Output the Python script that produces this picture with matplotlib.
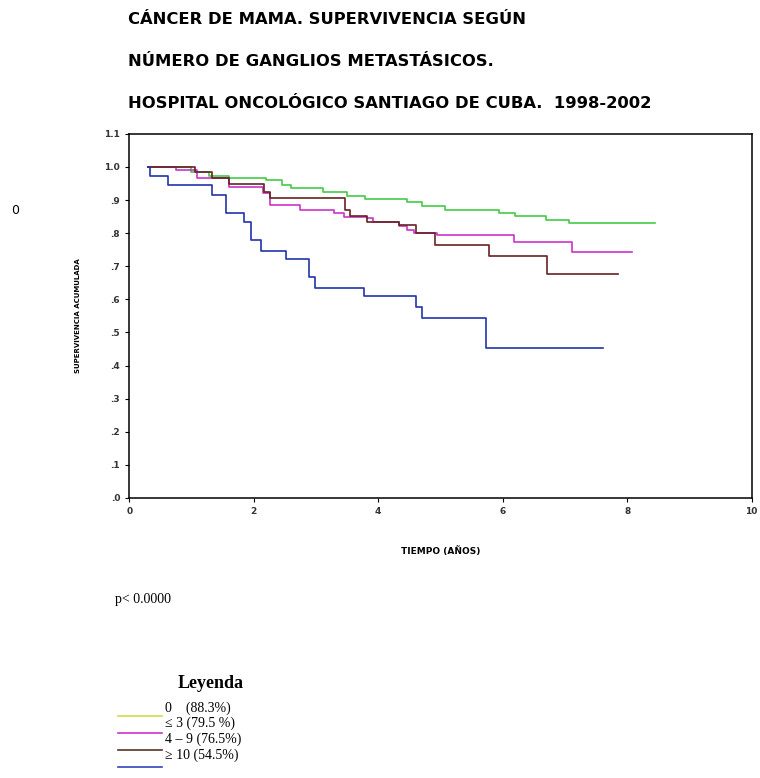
import numpy as np
import matplotlib
matplotlib.use("Agg")
import matplotlib.pyplot as plt
from matplotlib.lines import Line2D

# Kaplan-Meier curves (time in years, cumulative survival)
t_g0 = [0.3, 1.0, 1.28, 1.6, 2.19, 2.45, 2.6, 3.12, 3.5, 3.79, 4.46, 4.7, 5.08, 5.94, 6.2, 6.69, 7.06, 8.45]
s_g0 = [1.0, 0.986, 0.974, 0.966, 0.961, 0.946, 0.936, 0.924, 0.913, 0.902, 0.895, 0.883, 0.870, 0.860, 0.853, 0.840, 0.830, 0.830]

t_le3 = [0.3, 0.75, 1.09, 1.6, 2.15, 2.27, 2.75, 3.29, 3.45, 3.82, 3.92, 4.33, 4.46, 4.57, 4.95, 6.18, 7.12, 8.08]
s_le3 = [1.0, 0.99, 0.966, 0.938, 0.922, 0.885, 0.870, 0.860, 0.850, 0.845, 0.835, 0.823, 0.810, 0.800, 0.795, 0.772, 0.742, 0.742]

t_4_9 = [0.3, 1.06, 1.33, 1.6, 2.16, 2.27, 3.47, 3.55, 3.82, 4.33, 4.6, 4.92, 5.78, 6.72, 7.86]
s_4_9 = [1.0, 0.985, 0.968, 0.948, 0.925, 0.905, 0.870, 0.852, 0.835, 0.825, 0.800, 0.764, 0.731, 0.676, 0.676]

t_ge10 = [0.3, 0.33, 0.62, 1.33, 1.56, 1.84, 1.96, 2.12, 2.52, 2.89, 2.99, 3.78, 4.61, 4.70, 5.73, 7.62]
s_ge10 = [1.0, 0.974, 0.946, 0.915, 0.862, 0.835, 0.78, 0.747, 0.721, 0.667, 0.635, 0.61, 0.578, 0.543, 0.452, 0.452]

legend_labels = ["0    (88.3%)", "≤ 3 (79.5 %)", "4 – 9 (76.5%)", "≥ 10 (54.5%)"]
legend_colors = ["#d8d848", "#cc33cc", "#553322", "#3344bb"]

yticks = [0, .1, .2, .3, .4, .5, .6, .7, .8, .9, 1.0, 1.1]
ytick_labels = [".0", ".1", ".2", ".3", ".4", ".5", ".6", ".7", ".8", ".9", "1.0", "1.1"]
xticks = [0, 2, 4, 6, 8, 10]

fig = plt.figure(figsize=(7.6, 7.78), dpi=100)
ax = fig.add_axes([0.170, 0.360, 0.819, 0.468])

ax.step(t_g0, s_g0, where="post", color="#44cc44", lw=1.2)
ax.step(t_le3, s_le3, where="post", color="#cc33cc", lw=1.2)
ax.step(t_4_9, s_4_9, where="post", color="#662222", lw=1.2)
ax.step(t_ge10, s_ge10, where="post", color="#2233aa", lw=1.2)

ax.set_xlim(0, 10)
ax.set_ylim(0, 1.1)
ax.set_yticks(yticks)
ax.set_yticklabels(ytick_labels, fontsize=6.5, fontweight="bold", color="#333333")
ax.set_xticks(xticks)
ax.set_xticklabels([str(x) for x in xticks], fontsize=6.5, fontweight="bold", color="#333333")
ax.tick_params(length=3, width=0.8, direction="out")
for sp in ax.spines.values():
    sp.set_linewidth(1.1)
ax.set_ylabel("SUPERVIVENCIA ACUMULADA", fontsize=5, fontweight="bold", labelpad=17)
ax.set_xlabel("TIEMPO (AÑOS)", fontsize=6.5, fontweight="bold", labelpad=22)

# titles
title_kw = dict(fontsize=11.8, fontweight="bold", ha="left", va="center", family="DejaVu Sans")
fig.text(128 / 760, 1 - 20 / 778, "CÁNCER DE MAMA. SUPERVIVENCIA SEGÚN", **title_kw)
fig.text(128 / 760, 1 - 62 / 778, "NÚMERO DE GANGLIOS METASTÁSICOS.", **title_kw)
fig.text(128 / 760, 1 - 104 / 778, "HOSPITAL ONCOLÓGICO SANTIAGO DE CUBA.  1998-2002", **title_kw)

fig.text(15 / 760, 1 - 211 / 778, "0", fontsize=9, ha="center", va="center")
fig.text(115 / 760, 1 - 600 / 778, "p< 0.0000", fontsize=10, family="Liberation Serif",
         ha="left", va="center")

# legend drawn below the chart
fig.text(211 / 760, 1 - 684 / 778, "Leyenda", fontsize=13, fontweight="bold",
         family="Liberation Serif", ha="center", va="center")
label_y = [708, 723, 739, 755]
line_y = [716, 733, 750, 767]
for lab, col, ly, ln in zip(legend_labels, legend_colors, label_y, line_y):
    fig.add_artist(Line2D([118 / 760, 162 / 760], [1 - ln / 778, 1 - ln / 778],
                          color=col, lw=1.2, transform=fig.transFigure))
    fig.text(165 / 760, 1 - ly / 778, lab, fontsize=10, family="Liberation Serif",
             ha="left", va="center")

fig.savefig("out.png", dpi=100)
